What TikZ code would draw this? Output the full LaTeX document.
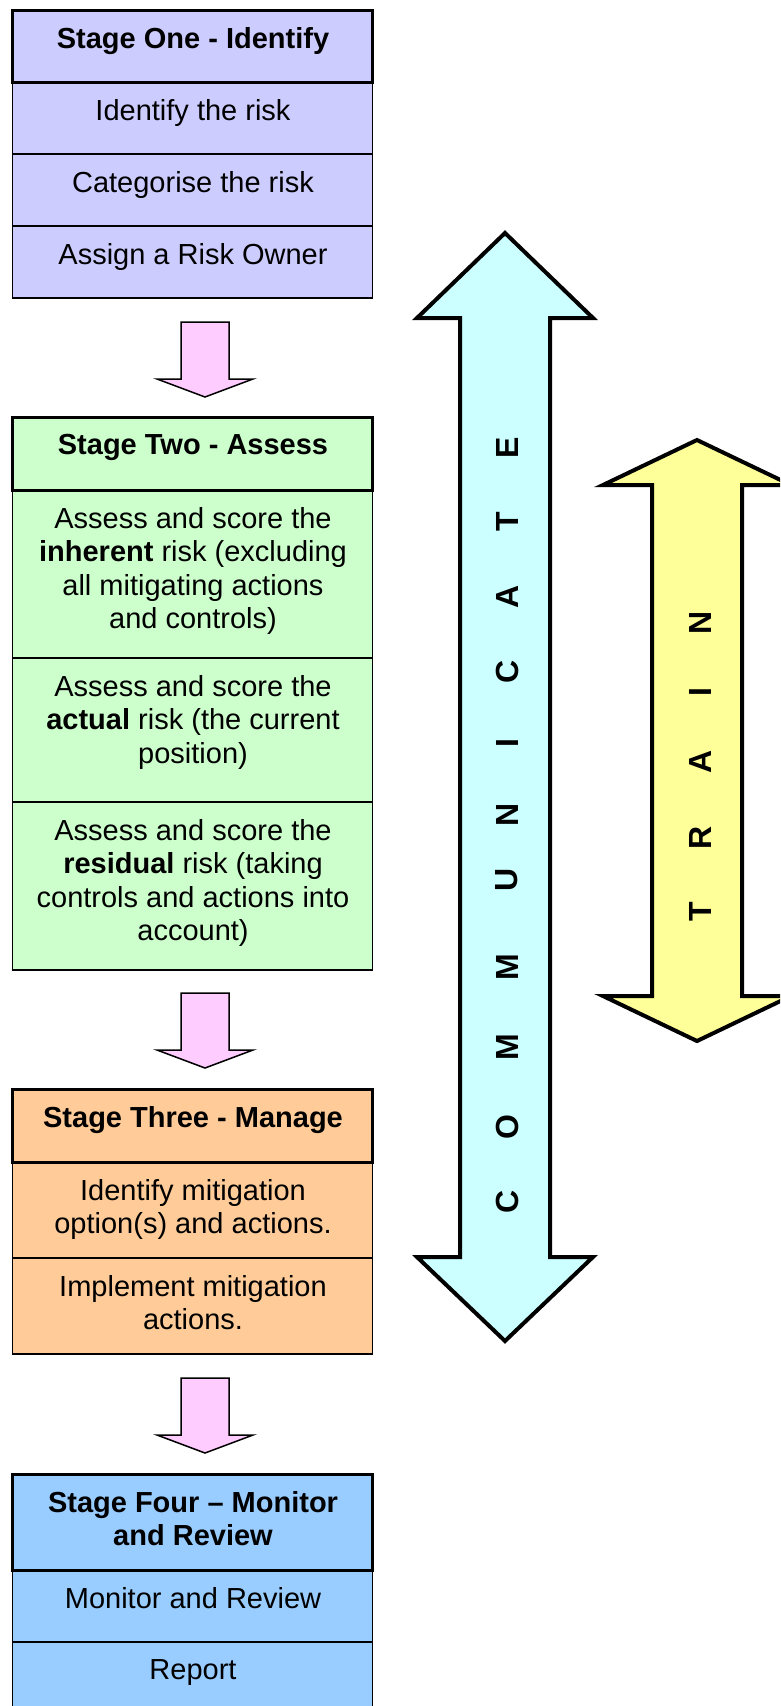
\documentclass[tikz,border=0pt]{standalone}
\usepackage{fontspec}
\setmainfont{Liberation Sans}
\usepackage{tikz}
\usetikzlibrary{positioning}
\definecolor{identifyfill}{HTML}{CCCCFF}
\definecolor{assessfill}{HTML}{CCFFCC}
\definecolor{managefill}{HTML}{FFCC99}
\definecolor{reviewfill}{HTML}{99CCFF}
\definecolor{stepfill}{HTML}{FFCCFF}
\definecolor{commfill}{HTML}{CCFFFF}
\definecolor{trainfill}{HTML}{FFFF99}
\tikzstyle{cellbox}=[draw, line width=1.5pt]
\tikzstyle{headbox}=[draw, line width=3pt]
\tikzstyle{cell text}=[anchor=north, inner sep=0pt, align=center, font=\fontsize{29}{33.4}\selectfont]
\tikzstyle{head text}=[cell text, font=\fontsize{29}{33.4}\selectfont\bfseries]
\tikzstyle{down arrow}=[draw, line width=1.5pt, fill=stepfill, line join=miter]
\tikzstyle{big arrow}=[draw, line width=4pt, line join=miter]
\tikzstyle{letter}=[rotate=90, inner sep=0pt, font=\fontsize{32}{38}\selectfont\bfseries]

\begin{document}
\begin{tikzpicture}[x=1pt, y=-1pt]
    \path[use as bounding box, clip] (0,0) rectangle (780,1706);
    \fill[white] (0,0) rectangle (780,1706);

    % stage one
    \foreach \t in {82,154,226}
    \draw [cellbox, fill=identifyfill] (12.5,\t) rectangle (372.5,\t+72);
    \draw [headbox, fill=identifyfill] (12.5,10) rectangle (372.5,82);
    \node [head text] (one-head) at (193,27) {Stage One - Identify};
    \foreach \l/\y [count=\i] in {Identify the risk/99, Categorise the risk/171, Assign a Risk Owner/243}
    \node [cell text] (one-\i) at (193,\y) {\l};

    % stage two
    \draw [cellbox, fill=assessfill] (12.5,490) rectangle (372.5,658);
    \draw [cellbox, fill=assessfill] (12.5,658) rectangle (372.5,802);
    \draw [cellbox, fill=assessfill] (12.5,802) rectangle (372.5,970);
    \draw [headbox, fill=assessfill] (12.5,417) rectangle (372.5,490);
    \node [head text] (two-head) at (193,434) {Stage Two - Assess};
    \node [cell text] (two-1) at (193,507) {Assess and score the\\\textbf{inherent} risk (excluding\\all mitigating actions\\and controls)};
    \node [cell text] (two-2) at (193,675) {Assess and score the\\\textbf{actual} risk (the current\\position)};
    \node [cell text] (two-3) at (193,819) {Assess and score the\\\textbf{residual} risk (taking\\controls and actions into\\account)};

    % stage three
    \draw [cellbox, fill=managefill] (12.5,1162) rectangle (372.5,1258);
    \draw [cellbox, fill=managefill] (12.5,1258) rectangle (372.5,1354);
    \draw [headbox, fill=managefill] (12.5,1089) rectangle (372.5,1162);
    \node [head text] (three-head) at (193,1106) {Stage Three - Manage};
    \node [cell text] (three-1) at (193,1179) {Identify mitigation\\option(s) and actions.};
    \node [cell text] (three-2) at (193,1275) {Implement mitigation\\actions.};

    % stage four
    \draw [cellbox, fill=reviewfill] (12.5,1570) rectangle (372.5,1642);
    \draw [cellbox, fill=reviewfill] (12.5,1642) rectangle (372.5,1720);
    \draw [headbox, fill=reviewfill] (12.5,1474) rectangle (372.5,1570);
    \node [head text] (four-head) at (193,1491) {Stage Four – Monitor\\and Review};
    \node [cell text] (four-1) at (193,1587) {Monitor and Review};
    \node [cell text] (four-2) at (193,1659) {Report};

    % arrows between the stages
    \foreach \t in {322,993,1378}
    \draw [down arrow] (181,\t) -- ++(48,0) -- ++(0,57) -- ++(24,0) -- ++(-48,18) -- ++(-48,-18) -- ++(24,0) -- cycle;

    % communicate
    \draw [big arrow, fill=commfill] (505,233) -- (593,318) -- (550,318) -- (550,1257) -- (593,1257) -- (505,1341)
        -- (417,1257) -- (460,1257) -- (460,318) -- (417,318) -- cycle;
    \foreach \l/\y [count=\i] in {C/1202, O/1127, M/1047, M/967, U/880, N/815, I/743, C/672, A/597, T/522, E/448}
    \node [letter] (comm-\i) at (507,\y) {\l};

    % train
    \draw [big arrow, fill=trainfill] (697,440) -- (791,485) -- (742,485) -- (742,996) -- (791,996) -- (697,1041)
        -- (603,996) -- (652,996) -- (652,485) -- (603,485) -- cycle;
    \foreach \l/\y [count=\i] in {T/912, R/838, A/762, I/692, N/623}
    \node [letter] (train-\i) at (700,\y) {\l};

\end{tikzpicture}
\end{document}
